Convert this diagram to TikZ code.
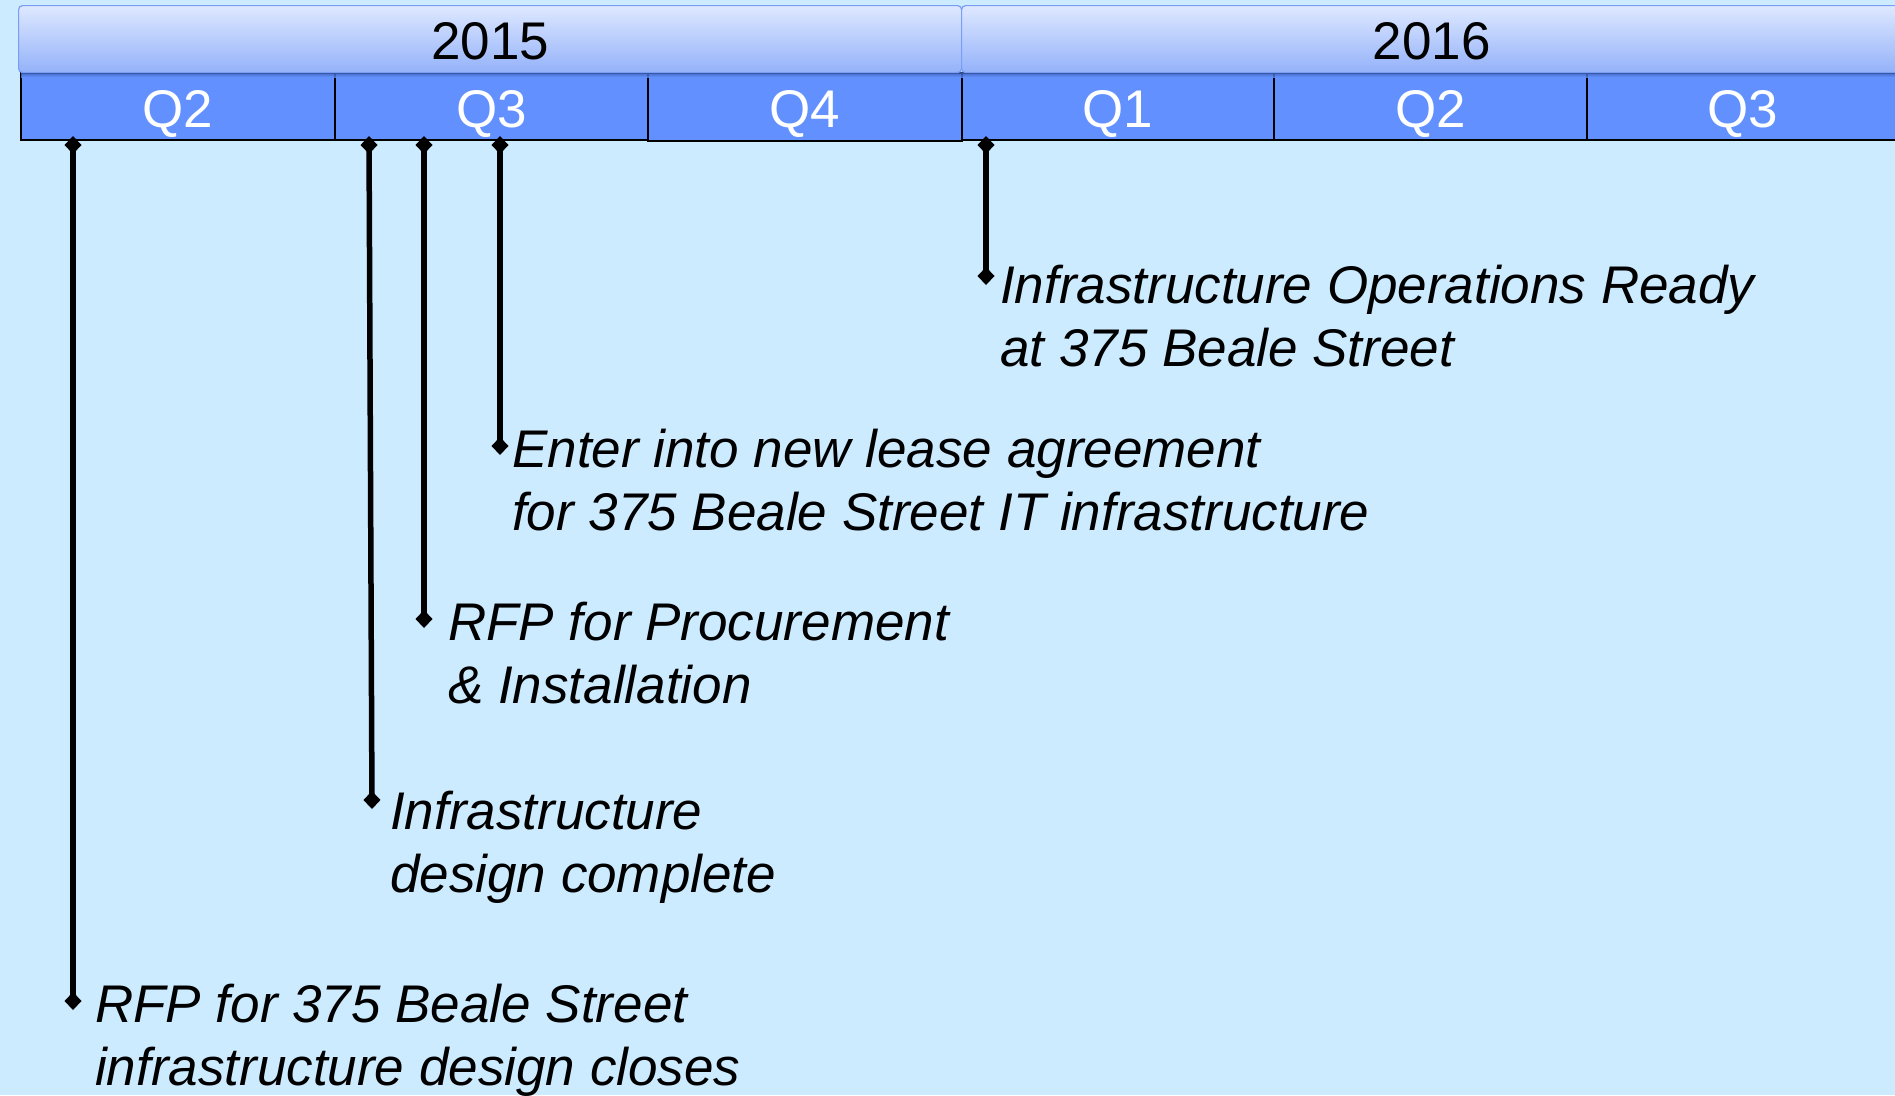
\documentclass[tikz,border=0pt]{standalone}
\usepackage{fontspec}
\setmainfont{Liberation Sans}
\usetikzlibrary{arrows.meta}
\definecolor{bgblue}{RGB}{204,235,255}
\definecolor{qblue}{RGB}{98,145,255}
\definecolor{qshadow}{RGB}{55,85,170}
\definecolor{yeartop}{RGB}{222,232,255}
\definecolor{yearbot}{RGB}{148,178,250}
\definecolor{yearedge}{RGB}{120,158,245}
\begin{document}
\begin{tikzpicture}[x=1pt,y=-1pt,
  lbl/.style={font=\fontsize{53}{63}\selectfont\itshape, anchor=base west, inner sep=0pt},
  qbox/.style={draw=black, line width=1.8pt, fill=qblue, text=white, anchor=north west,
    minimum height=67pt, inner sep=0pt, text height=41.6pt, text depth=0pt,
    font=\fontsize{53}{63}\selectfont},
  yearbox/.style={draw=yearedge, line width=1.2pt, top color=yeartop, bottom color=yearbot,
    rounded corners=4pt, anchor=north west, minimum height=67pt, inner sep=0pt,
    text height=41pt, text depth=0pt, font=\fontsize{53}{63}\selectfont},
  milestone/.style={line width=5.5pt, {Diamond[length=18pt,width=17pt]}-{Diamond[length=18pt,width=17pt]}}
]
\useasboundingbox (0,0) rectangle (1895,1095);
\clip (0,0) rectangle (1895,1095);
\fill[bgblue] (0,0) rectangle (1895,1095);

% quarters
\node[qbox, minimum width=314pt] (q2a) at (20,72) {Q2};
\node[qbox, minimum width=313pt] (q3a) at (334,72) {Q3};
\node[qbox, minimum width=314pt, minimum height=68pt] (q4a) at (647,72) {Q4};
\node[qbox, minimum width=312pt] (q1b) at (961,72) {Q1};
\node[qbox, minimum width=313pt] (q2b) at (1273,72) {Q2};
\node[qbox, minimum width=312pt] (q3b) at (1586,72) {Q3};
\shade[top color=qshadow, bottom color=qblue, opacity=0.8] (21,72) rectangle (1895,77);

% years
\node[yearbox, minimum width=943pt] (y2015) at (18,5) {2015};
\node[yearbox, minimum width=940pt] (y2016) at (961,5) {2016};

% milestone end points
\coordinate (m1t) at (73,136);  \coordinate (m1b) at (73,1010);
\coordinate (m2t) at (369,136); \coordinate (m2b) at (372,809);
\coordinate (m3t) at (424,136); \coordinate (m3b) at (424,628);
\coordinate (m4t) at (500,136); \coordinate (m4b) at (500,455);
\coordinate (m5t) at (986,136); \coordinate (m5b) at (986,285);

\draw[milestone] (m1t) -- (m1b);
\draw[milestone] (m2t) -- (m2b);
\draw[milestone] (m3t) -- (m3b);
\draw[milestone] (m4t) -- (m4b);
\draw[milestone] (m5t) -- (m5b);

% labels
\node[lbl] (t5a) at (1000,303) {Infrastructure Operations Ready};
\node[lbl] (t5b) at (1000,366) {at 375 Beale Street};
\node[lbl] (t4a) at (512,467) {Enter into new lease agreement};
\node[lbl] (t4b) at (512,530) {for 375 Beale Street IT infrastructure};
\node[lbl] (t3a) at (448,640) {RFP for Procurement};
\node[lbl] (t3b) at (448,703) {\& Installation};
\node[lbl] (t2a) at (390,829) {Infrastructure};
\node[lbl] (t2b) at (390,892) {design complete};
\node[lbl] (t1a) at (95,1022) {RFP for 375 Beale Street};
\node[lbl] (t1b) at (95,1085) {infrastructure design closes};
\end{tikzpicture}
\end{document}
